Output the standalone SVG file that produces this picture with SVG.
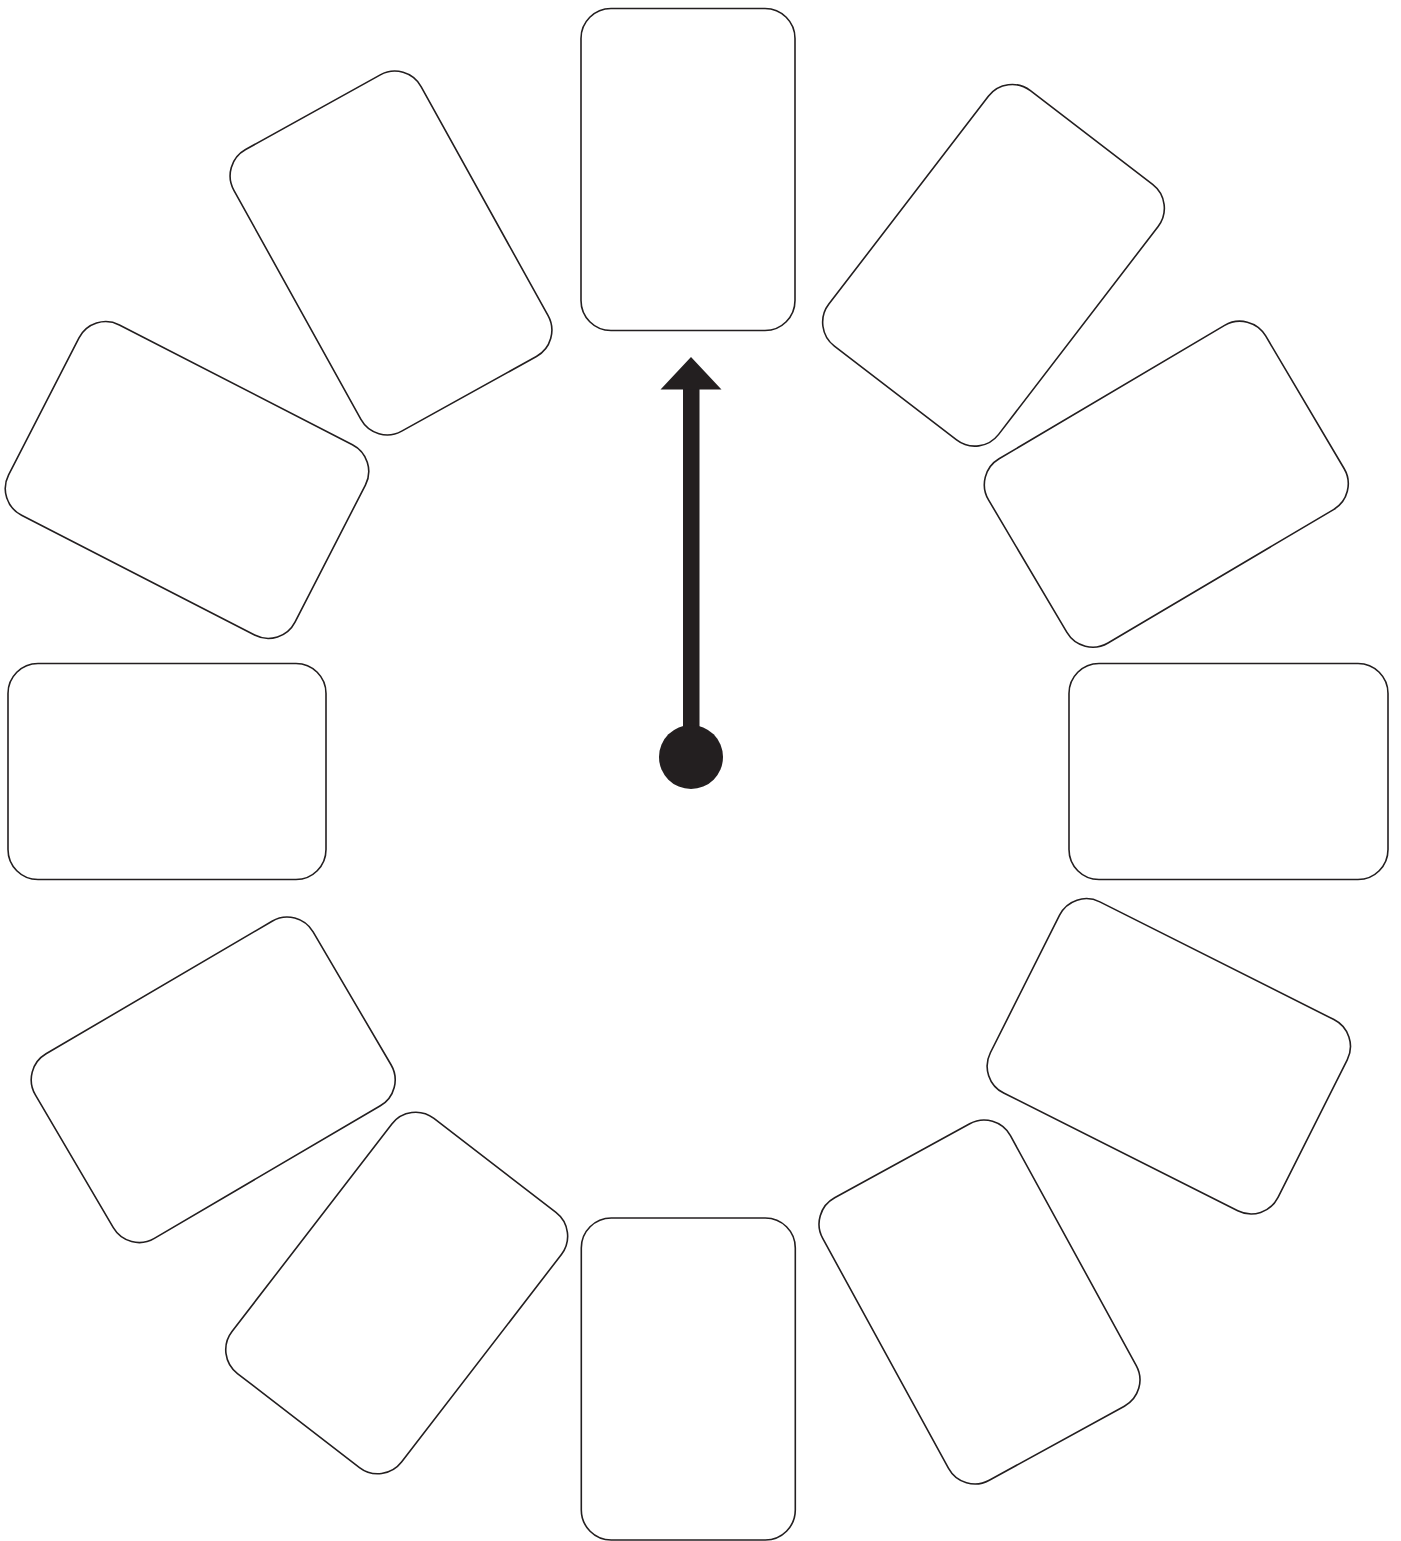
<svg xmlns="http://www.w3.org/2000/svg" width="1401" height="1541" viewBox="0 0 1401 1541">
<style>
.card{fill:#ffffff;stroke:#231f20;stroke-width:1.6}
.hand{fill:#231f20;stroke:none}
</style>
<rect x="0" y="0" width="1401" height="1541" fill="#ffffff"/>
<g id="card-12" transform="translate(688,169.5)"><rect class="card" x="-107" y="-161" width="214" height="322" rx="30" ry="30"/></g>
<g id="card-1" transform="translate(993.5,265.3) rotate(37.5)"><rect class="card" x="-107" y="-161" width="214" height="322" rx="30" ry="30"/></g>
<g id="card-2" transform="translate(1166.3,484.2) rotate(59.4)"><rect class="card" x="-107" y="-161" width="214" height="322" rx="30" ry="30"/></g>
<g id="card-3" transform="translate(1228.5,771.5) rotate(90)"><rect class="card" x="-108" y="-159.5" width="216" height="319" rx="30" ry="30"/></g>
<g id="card-4" transform="translate(1168.8,1056.3) rotate(-63.3)"><rect class="card" x="-107" y="-161" width="214" height="322" rx="30" ry="30"/></g>
<g id="card-5" transform="translate(979.5,1302) rotate(-28.7)"><rect class="card" x="-107" y="-161" width="214" height="322" rx="30" ry="30"/></g>
<g id="card-6" transform="translate(688.3,1379)"><rect class="card" x="-107" y="-161" width="214" height="322" rx="30" ry="30"/></g>
<g id="card-7" transform="translate(396.7,1293) rotate(37.6)"><rect class="card" x="-107" y="-161" width="214" height="322" rx="30" ry="30"/></g>
<g id="card-8" transform="translate(213.2,1079.8) rotate(59.6)"><rect class="card" x="-107" y="-161" width="214" height="322" rx="30" ry="30"/></g>
<g id="card-9" transform="translate(167,771.5) rotate(90)"><rect class="card" x="-108" y="-159" width="216" height="318" rx="30" ry="30"/></g>
<g id="card-10" transform="translate(187,480) rotate(-62.8)"><rect class="card" x="-107" y="-161" width="214" height="322" rx="30" ry="30"/></g>
<g id="card-11" transform="translate(391,253) rotate(-29)"><rect class="card" x="-107" y="-161" width="214" height="322" rx="30" ry="30"/></g>
<g id="connectors">
<rect class="hand" x="683" y="388" width="16.5" height="345"/>
<polygon class="hand" points="691,357 721.5,389.5 660.5,389.5"/>
<circle class="hand" cx="691" cy="757" r="32"/>
</g>
</svg>
